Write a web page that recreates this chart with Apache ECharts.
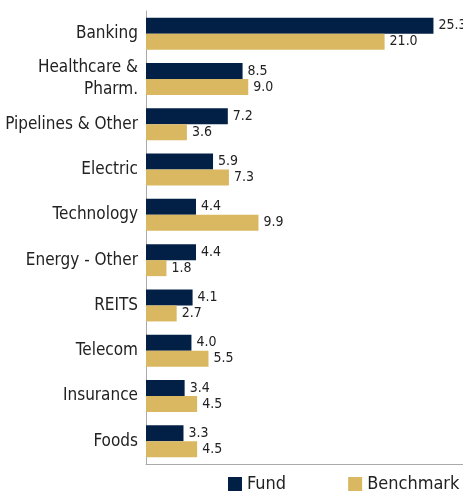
<!DOCTYPE html>
<html><head><meta charset="utf-8">
<script src="https://cdn.jsdelivr.net/npm/echarts@6/dist/echarts.min.js"></script>
<style>html,body{margin:0;padding:0;background:#fff}#c{width:463px;height:491px}</style>
</head><body><div id="c"></div>
<script>
const categories = ["Banking","Healthcare &\nPharm.","Pipelines & Other","Electric","Technology","Energy - Other","REITS","Telecom","Insurance","Foods"];
const fund = [25.3,8.5,7.2,5.9,4.4,4.4,4.1,4.0,3.4,3.3];
const benchmark = [21.0,9.0,3.6,7.3,9.9,1.8,2.7,5.5,4.5,4.5];
const seriesNames = ["Fund","Benchmark"];
const FONT = '"DejaVu Sans Condensed",sans-serif';
const chart = echarts.init(document.getElementById('c'), null, {renderer:'canvas'});
const lbl = {show:true, position:'right', distance:5, fontFamily:FONT, fontSize:14, color:'#222', formatter:p=>p.value.toFixed(1)};
chart.setOption({
  animation:false,
  grid:{left:146, top:11, bottom:27, right:0, containLabel:false, outerBoundsMode:'none'},
  legend:{data:seriesNames, left:228, top:475, width:235, itemWidth:14, itemHeight:14, itemGap:62, icon:'rect', padding:0,
    textStyle:{fontFamily:FONT, fontSize:18, color:'#222'}},
  xAxis:{type:'value', min:0, max:27.9, axisLabel:{show:false}, splitLine:{show:false}, axisTick:{show:false},
    axisLine:{show:true, lineStyle:{color:'#aaa', width:1}}},
  yAxis:{type:'category', data:categories, inverse:true, axisTick:{show:false},
    axisLine:{show:true, lineStyle:{color:'#aaa', width:1}},
    axisLabel:{fontFamily:FONT, fontSize:17, color:'#222', margin:8, lineHeight:22, align:'right'}},
  series:[
    {name:seriesNames[0], type:'bar', data:fund, barWidth:16, barGap:'0%', itemStyle:{color:'#022046'}, label:lbl},
    {name:seriesNames[1], type:'bar', data:benchmark, barWidth:16, barGap:'0%', itemStyle:{color:'#dab862'}, label:lbl}
  ]
});
</script></body></html>
